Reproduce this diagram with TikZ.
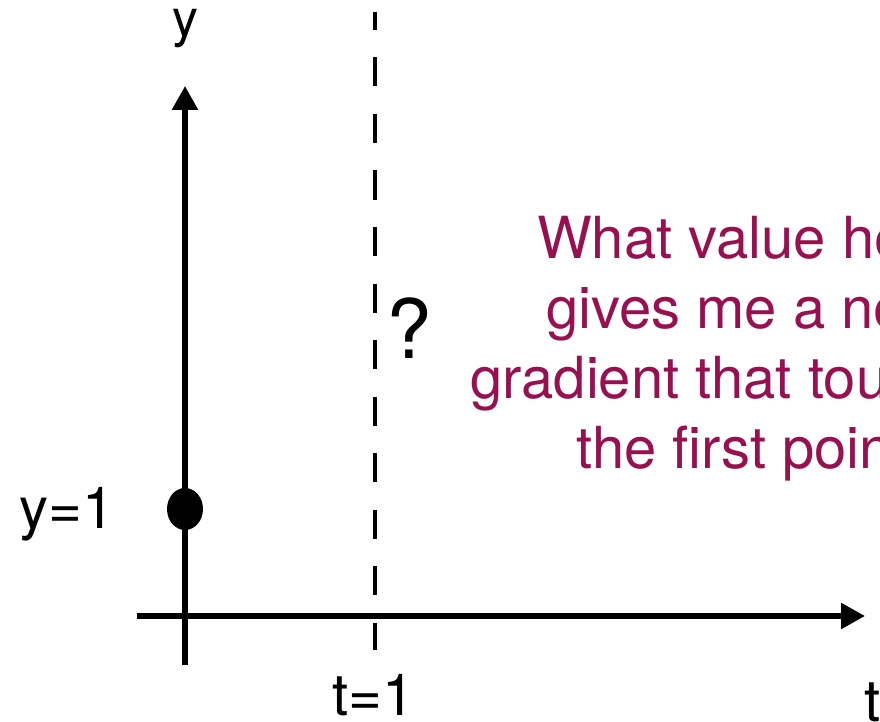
\documentclass[tikz,border=0pt]{standalone}
\usepackage{fontspec}
\setmainfont{TeX Gyre Heros}
\usetikzlibrary{arrows.meta,shapes.geometric}
\definecolor{notecol}{RGB}{152,16,80}
\tikzset{
  axisline/.style={line width=5.5pt,-{Triangle[length=24pt,width=25pt]}},
  dashline/.style={line width=4pt,dash pattern=on 29pt off 27.5pt,dash phase=11pt},
  lbl/.style={inner sep=0pt,anchor=base west,font=\fontsize{58}{70}\selectfont},
  note/.style={inner sep=0pt,anchor=base west,text=notecol,font=\fontsize{58}{70}\selectfont},
  dotnode/.style={ellipse,fill=black,draw=none,minimum width=36pt,minimum height=42pt,inner sep=0pt}
}
\begin{document}
\begin{tikzpicture}[x=1pt,y=-1pt]
\useasboundingbox (0,0) rectangle (880,722);
\clip (0,0) rectangle (880,722);
% coordinates
\coordinate (ybot) at (185,665);
\coordinate (ytop) at (185,86);
\coordinate (xleft) at (137,616);
\coordinate (xright) at (865,616);
\coordinate (dtop) at (375,12);
\coordinate (dbot) at (375,650);
% axes
\draw[axisline] (ybot) -- (ytop);
\draw[axisline] (xleft) -- (xright);
% dashed line t=1
\draw[dashline] (dtop) -- (dbot);
% point
\node[dotnode] (pt) at (185,509) {};
% labels
\node[inner sep=0pt,anchor=base,font=\fontsize{52}{62}\selectfont] (ylab) at (185,37) {y};
\node[lbl] (y1) at (19,528) {y=1};
\node[lbl] (t1) at (332,715) {t=1};
\node[lbl] (tlab) at (864,721) {t};
\node[inner sep=0pt,anchor=base west,font=\fontsize{82}{98}\selectfont] (q) at (386,358) {?};
% note
\node[note] (n1) at (537,258) {What value he};
\node[note] (n2) at (546,328) {gives me a ne};
\node[note] (n3) at (470,398) {gradient that tou};
\node[note] (n4) at (576,468) {the first poin};
\end{tikzpicture}
\end{document}
